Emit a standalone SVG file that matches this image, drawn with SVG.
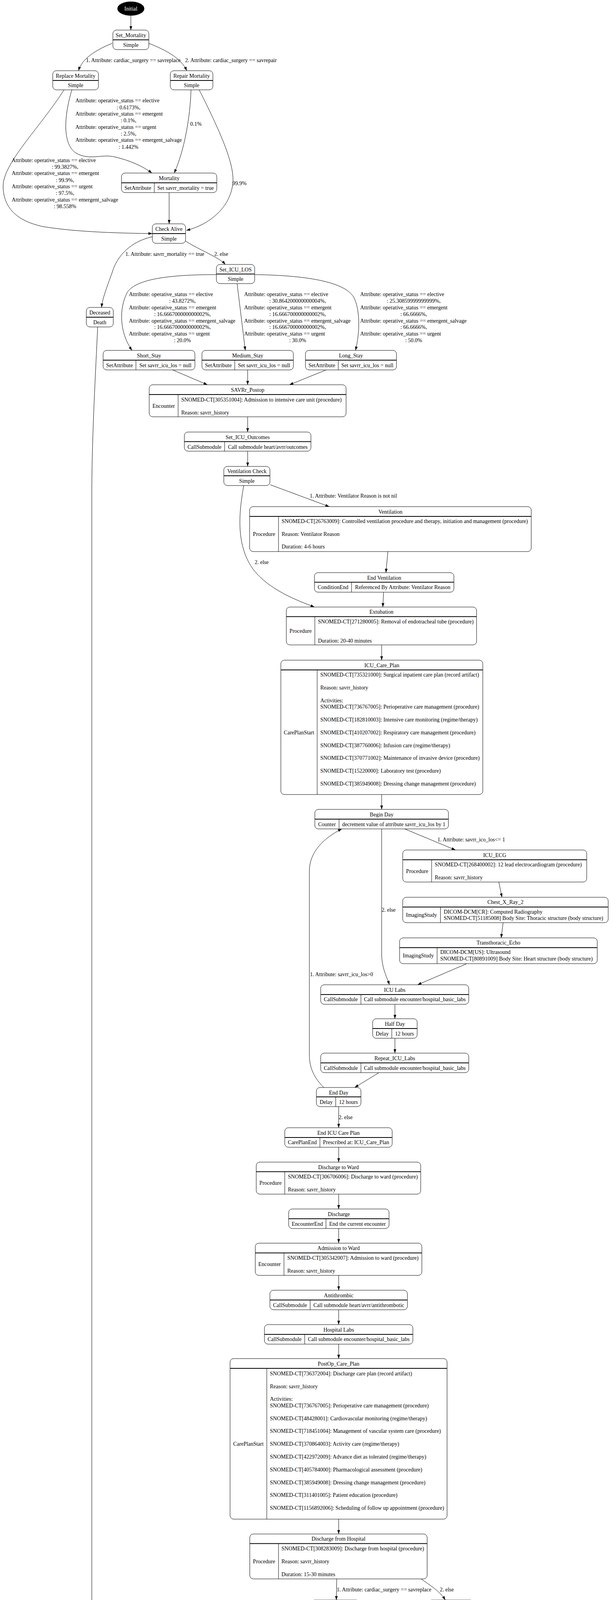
<svg xmlns="http://www.w3.org/2000/svg" width="1577" height="5031" viewBox="0 0 1577 5031">
<style>
text{font-family:"Liberation Serif","Times New Roman",serif;font-size:14px;fill:#000}
.c{text-anchor:middle}
.w{fill:#fff}
.nd rect{fill:#fff;stroke:#000;stroke-width:1}
.hd{stroke:#000;stroke-width:2}
.fd{stroke:#000;stroke-width:1}
.e path{fill:none;stroke:#000;stroke-width:1;marker-end:url(#ah)}
</style>
<defs>
<marker id="ah" viewBox="0 0 10 7" refX="10" refY="3.5" markerWidth="10" markerHeight="7" markerUnits="userSpaceOnUse" orient="auto"><path d="M0,0L10,3.5L0,7z" fill="#000"/></marker>
</defs>
<rect width="1577" height="5031" fill="#fff"/>

<g class="e" id="connectors">
<path d="M335,40L335,77"/>
<path d="M287,111C245,128 210,150 201,181"/>
<path d="M381,111C425,128 465,150 478,181"/>
<path d="M164,230C100,330 5,420 8,480C10,530 40,565 110,580C200,595 320,597 390,598"/>
<path d="M184,230C163,300 160,370 195,392C230,412 260,393 295,402C330,410 365,425 389,443"/>
<path d="M489,230C487,300 472,385 446,443"/>
<path d="M510,230C560,330 602,420 596,470C590,525 545,572 477,590"/>
<path d="M433,493L433,573"/>
<path d="M390,606C335,618 300,655 288,695C272,740 262,765 260,787"/>
<path d="M475,617C510,640 560,658 577,677"/>
<path d="M250,837C245,950 236,1100 235,1250L235,4870C235,4940 262,4975 294,4995"/>
<path d="M554,703C430,703 345,715 325,750C305,790 305,850 338,897"/>
<path d="M607,726L628,897"/>
<path d="M653,703C780,705 880,720 905,760C922,790 922,850 910,897"/>
<path d="M442,947L531,985"/>
<path d="M634,947L634,985"/>
<path d="M835,947L741,985"/>
<path d="M634,1067L634,1106"/>
<path d="M634,1155L634,1194"/>
<path d="M692,1241L843,1297"/>
<path d="M624,1243C610,1320 605,1400 650,1460C690,1510 760,1537 805,1554"/>
<path d="M993,1412L988,1466"/>
<path d="M982,1516L980,1554"/>
<path d="M977,1651L977,1690"/>
<path d="M977,2034L977,2072"/>
<path d="M1036,2122L1166,2176"/>
<path d="M977,2122L977,2440C977,2478 990,2500 997,2521"/>
<path d="M1277,2258L1285,2297"/>
<path d="M1288,2362L1283,2401"/>
<path d="M1195,2467L1069,2521"/>
<path d="M1011,2571L1011,2608"/>
<path d="M1011,2658L1011,2696"/>
<path d="M970,2746L908,2784"/>
<path d="M829,2784C805,2760 792,2735 792,2700L792,2230C792,2180 830,2145 875,2122"/>
<path d="M867,2833L867,2887"/>
<path d="M867,2937L867,2975"/>
<path d="M867,3057L867,3095"/>
<path d="M867,3145L867,3182"/>
<path d="M867,3265L867,3303"/>
<path d="M867,3353L867,3391"/>
<path d="M867,3441L867,3478"/>
<path d="M867,3889L867,3927"/>
<path d="M862,4042L861,4096"/>
<path d="M1078,4042C1100,4058 1125,4072 1140,4096"/>
<path d="M796,4124C690,4130 600,4140 572,4190C548,4235 545,4280 548,4317"/>
<path d="M855,4146C851,4200 846,4262 860,4290C868,4305 878,4312 887,4316"/>
<path d="M1154,4146C1150,4200 1145,4270 1133,4292C1120,4312 1000,4313 853,4316"/>
<path d="M1183,4146C1205,4200 1222,4250 1222,4317"/>
<path d="M564,4383L567,4421"/>
<path d="M1151,4383L1074,4421"/>
<path d="M569,4471L569.5,4509"/>
<path d="M910,4468L649,4519"/>
<path d="M605,4558L792,4696"/>
<path d="M557,4558C536,4650 511,4720 508,4800"/>
<path d="M781,4746C740,4780 640,4800 550,4815"/>
<path d="M469,4830C400,4845 335,4860 329,4880C327,4890 327,4897 327,4903"/>
<path d="M515,4850C520,4910 490,4960 370,4995"/>
<path d="M334,4953L334,4992"/>
</g>

<g id="edge-labels">
<text x="220" y="159">1. Attribute: cardiac_surgery == savreplace</text>
<text x="474" y="159">2. Attribute: cardiac_surgery == savrepair</text>
<text x="193" y="262">Attribute: operative_status == elective</text>
<text x="329" y="279.5" class="c">: 0.6173%,</text>
<text x="193" y="296">Attribute: operative_status == emergent</text>
<text x="329" y="313.3" class="c">: 0.1%,</text>
<text x="193" y="330">Attribute: operative_status == urgent</text>
<text x="329" y="346.7" class="c">: 2.5%,</text>
<text x="193" y="363.3">Attribute: operative_status == emergent_salvage</text>
<text x="329" y="380.7" class="c">: 1.442%</text>
<text x="487" y="322">0.1%</text>
<text x="30" y="415">Attribute: operative_status == elective</text>
<text x="166.5" y="431.7" class="c">: 99.3827%,</text>
<text x="30" y="448.3">Attribute: operative_status == emergent</text>
<text x="166.5" y="465.7" class="c">: 99.9%,</text>
<text x="30" y="482.3">Attribute: operative_status == urgent</text>
<text x="166.5" y="499.3" class="c">: 97.5%,</text>
<text x="30" y="516">Attribute: operative_status == emergent_salvage</text>
<text x="166.5" y="532.7" class="c">: 98.558%</text>
<text x="595" y="474">99.9%</text>
<text x="321" y="655">1. Attribute: savrr_mortality == true</text>
<text x="548.5" y="655">2. else</text>
<text x="330" y="758">Attribute: operative_status == elective</text>
<text x="467" y="775" class="c">: 43.8272%,</text>
<text x="330" y="792">Attribute: operative_status == emergent</text>
<text x="467" y="809" class="c">: 16.666700000000002%,</text>
<text x="330" y="826">Attribute: operative_status == emergent_salvage</text>
<text x="467" y="842" class="c">: 16.666700000000002%,</text>
<text x="330" y="859">Attribute: operative_status == urgent</text>
<text x="467" y="876" class="c">: 20.0%</text>
<text x="625" y="758">Attribute: operative_status == elective</text>
<text x="762" y="775" class="c">: 30.864200000000004%,</text>
<text x="625" y="792">Attribute: operative_status == emergent</text>
<text x="762" y="809" class="c">: 16.666700000000002%,</text>
<text x="625" y="826">Attribute: operative_status == emergent_salvage</text>
<text x="762" y="842" class="c">: 16.666700000000002%,</text>
<text x="625" y="859">Attribute: operative_status == urgent</text>
<text x="762" y="876" class="c">: 30.0%</text>
<text x="922" y="758">Attribute: operative_status == elective</text>
<text x="1059" y="775" class="c">: 25.30859999999999%,</text>
<text x="922" y="792">Attribute: operative_status == emergent</text>
<text x="1059" y="809" class="c">: 66.6666%,</text>
<text x="922" y="826">Attribute: operative_status == emergent_salvage</text>
<text x="1059" y="842" class="c">: 66.6666%,</text>
<text x="922" y="859">Attribute: operative_status == urgent</text>
<text x="1059" y="876" class="c">: 50.0%</text>
<text x="793" y="1274">1. Attribute: Ventilator Reason is not nil</text>
<text x="652" y="1444">2. else</text>
<text x="1120" y="2154">1. Attribute: savrr_ico_los&lt;= 1</text>
<text x="977" y="2334">2. else</text>
<text x="793.5" y="2499">1. Attribute: savrr_icu_los&gt;0</text>
<text x="867" y="2865">2. else</text>
<text x="862" y="4074">1. Attribute: cardiac_surgery == savreplace</text>
<text x="1126" y="4074">2. else</text>
<text x="564" y="4177.7">Attribute: operative_status == elective</text>
<text x="700" y="4195" class="c">: 94.39999999999999%,</text>
<text x="564" y="4211.7">Attribute: operative_status == emergent</text>
<text x="700" y="4229" class="c">: 83.3%,</text>
<text x="564" y="4245">Attribute: operative_status == emergent_salvage</text>
<text x="700" y="4262.3" class="c">: 83.3%,</text>
<text x="564" y="4279">Attribute: operative_status == urgent</text>
<text x="700" y="4295.7" class="c">: 80.0%</text>
<text x="860" y="4177.7">Attribute: operative_status == elective</text>
<text x="996" y="4195" class="c">: 5.600000000000016%,</text>
<text x="860" y="4211.7">Attribute: operative_status == emergent</text>
<text x="996" y="4229" class="c">: 16.700000000000003%,</text>
<text x="860" y="4245">Attribute: operative_status == emergent_salvage</text>
<text x="996" y="4262.3" class="c">: 16.700000000000003%,</text>
<text x="860" y="4279">Attribute: operative_status == urgent</text>
<text x="996" y="4295.7" class="c">: 20.0%</text>
<text x="1151" y="4236">93.0%</text>
<text x="1222" y="4236">7.000000000000001%</text>
<text x="743" y="4590.7">Attribute: cardiac_surgery == savreplace</text>
<text x="857.5" y="4607.7" class="c">: 1.442%,</text>
<text x="743" y="4624.3">Attribute: cardiac_surgery == savrepair</text>
<text x="857.5" y="4641.7" class="c">: 1.0%,</text>
<text x="857.5" y="4657.7" class="c">else: 1.0%</text>
<text x="516.5" y="4692.7">Attribute: cardiac_surgery == savreplace</text>
<text x="631" y="4710" class="c">: 98.558%,</text>
<text x="516.5" y="4726.7">Attribute: cardiac_surgery == savrepair</text>
<text x="631" y="4743.3" class="c">: 99.0%,</text>
<text x="631" y="4759.3" class="c">else: 99.0%</text>
<text x="335" y="4882">1. Attribute: postop_snf == true</text>
<text x="499" y="4934">2. else</text>
</g>

<g id="initial"><ellipse cx="335" cy="22" rx="34.5" ry="18" fill="#000"/><text x="335" y="27" class="c w">Initial</text></g>

<g id="set_mortality" class="nd"><rect x="289" y="77" width="92" height="50" rx="9"/><line class="hd" x1="289" y1="102" x2="381" y2="102"/><text x="335" y="95" class="c">Set_Mortality</text><text x="335" y="120" class="c">Simple</text></g>

<g id="replace_mortality" class="nd"><rect x="135" y="181" width="117" height="49" rx="9"/><line class="hd" x1="135" y1="206" x2="252" y2="206"/><text x="193.5" y="198.5" class="c">Replace Mortality</text><text x="193.5" y="223" class="c">Simple</text></g>

<g id="repair_mortality" class="nd"><rect x="436" y="181" width="109" height="49" rx="9"/><line class="hd" x1="436" y1="206" x2="545" y2="206"/><text x="490.5" y="198.5" class="c">Repair Mortality</text><text x="490.5" y="223" class="c">Simple</text></g>

<g id="mortality" class="nd"><rect x="311" y="443" width="244" height="50" rx="9"/><line class="hd" x1="311" y1="468" x2="555" y2="468"/><line class="fd" x1="395" y1="468" x2="395" y2="493"/><text x="433" y="461" class="c">Mortality</text><text x="353" y="486" class="c">SetAttribute</text><text x="475" y="486" class="c">Set savrr_mortality = true</text></g>

<g id="check_alive" class="nd"><rect x="390" y="573" width="85" height="50" rx="9"/><line class="hd" x1="390" y1="598" x2="475" y2="598"/><text x="432.5" y="591" class="c">Check Alive</text><text x="432.5" y="616" class="c">Simple</text></g>

<g id="deceased" class="nd"><rect x="221" y="787" width="69" height="50" rx="9"/><line class="hd" x1="221" y1="812" x2="290" y2="812"/><text x="255.5" y="805" class="c">Deceased</text><text x="255.5" y="830" class="c">Death</text></g>

<g id="set_icu_los" class="nd"><rect x="554" y="677" width="98" height="49" rx="9"/><line class="hd" x1="554" y1="701.5" x2="652" y2="701.5"/><text x="603" y="694.5" class="c">Set_ICU_LOS</text><text x="603" y="719" class="c">Simple</text></g>

<g id="short_stay" class="nd"><rect x="264" y="897" width="235" height="50" rx="9"/><line class="hd" x1="264" y1="922" x2="499" y2="922"/><line class="fd" x1="348" y1="922" x2="348" y2="947"/><text x="381.5" y="915" class="c">Short_Stay</text><text x="306" y="940" class="c">SetAttribute</text><text x="423.5" y="940" class="c">Set savrr_icu_los = null</text></g>

<g id="medium_stay" class="nd"><rect x="517" y="897" width="234" height="50" rx="9"/><line class="hd" x1="517" y1="922" x2="751" y2="922"/><line class="fd" x1="601" y1="922" x2="601" y2="947"/><text x="634" y="915" class="c">Medium_Stay</text><text x="559" y="940" class="c">SetAttribute</text><text x="676" y="940" class="c">Set savrr_icu_los = null</text></g>

<g id="long_stay" class="nd"><rect x="782" y="897" width="233" height="50" rx="9"/><line class="hd" x1="782" y1="922" x2="1015" y2="922"/><line class="fd" x1="866" y1="922" x2="866" y2="947"/><text x="898.5" y="915" class="c">Long_Stay</text><text x="824" y="940" class="c">SetAttribute</text><text x="940.5" y="940" class="c">Set savrr_icu_los = null</text></g>

<g id="savrr_postop" class="nd"><rect x="382" y="985" width="504" height="82" rx="9"/><line class="hd" x1="382" y1="1010" x2="886" y2="1010"/><line class="fd" x1="456" y1="1010" x2="456" y2="1067"/><text x="634" y="1003" class="c">SAVRr_Postop</text><text x="419" y="1044" class="c">Encounter</text><text x="464" y="1028">SNOMED-CT[305351004]: Admission to intensive care unit (procedure)</text><text x="464" y="1061">Reason: savrr_history</text></g>

<g id="set_icu_outcomes" class="nd"><rect x="472" y="1106" width="324" height="49" rx="9"/><line class="hd" x1="472" y1="1130.5" x2="796" y2="1130.5"/><line class="fd" x1="575" y1="1130.5" x2="575" y2="1155"/><text x="634" y="1123.5" class="c">Set_ICU_Outcomes</text><text x="523.5" y="1148.5" class="c">CallSubmodule</text><text x="685.5" y="1148.5" class="c">Call submodule heart/avrr/outcomes</text></g>

<g id="ventilation_check" class="nd"><rect x="573" y="1194" width="118" height="49" rx="9"/><line class="hd" x1="573" y1="1218" x2="691" y2="1218"/><text x="632" y="1211" class="c">Ventilation Check</text><text x="632" y="1235.5" class="c">Simple</text></g>

<g id="ventilation" class="nd"><rect x="639" y="1297" width="721" height="115" rx="9"/><line class="hd" x1="639" y1="1322" x2="1360" y2="1322"/><line class="fd" x1="713" y1="1322" x2="713" y2="1412"/><text x="999.5" y="1314.5" class="c">Ventilation</text><text x="676" y="1372" class="c">Procedure</text><text x="721" y="1339.3">SNOMED-CT[26763009]: Controlled ventilation procedure and therapy, initiation and management (procedure)</text><text x="721" y="1372">Reason: Ventilator Reason</text><text x="721" y="1404.3">Duration: 4-6 hours</text></g>

<g id="end_ventilation" class="nd"><rect x="805" y="1466" width="357" height="50" rx="9"/><line class="hd" x1="805" y1="1490.5" x2="1162" y2="1490.5"/><line class="fd" x1="900" y1="1490.5" x2="900" y2="1516"/><text x="983.5" y="1483.5" class="c">End Ventilation</text><text x="852.5" y="1508" class="c">ConditionEnd</text><text x="1031" y="1508" class="c">Referenced By Attribute: Ventilator Reason</text></g>

<g id="extubation" class="nd"><rect x="733" y="1554" width="487" height="97" rx="9"/><line class="hd" x1="733" y1="1578.5" x2="1220" y2="1578.5"/><line class="fd" x1="806" y1="1578.5" x2="806" y2="1651"/><text x="976.5" y="1571" class="c">Extubation</text><text x="769.5" y="1620" class="c">Procedure</text><text x="814" y="1596">SNOMED-CT[271280005]: Removal of endotracheal tube (procedure)</text><text x="814" y="1644.5">Duration: 20-40 minutes</text></g>

<g id="icu_care_plan" class="nd"><rect x="719" y="1690" width="517" height="344" rx="9"/><line class="hd" x1="719" y1="1715" x2="1236" y2="1715"/><line class="fd" x1="812" y1="1715" x2="812" y2="2034"/><text x="977.5" y="1708" class="c">ICU_Care_Plan</text><text x="765.5" y="1880" class="c">CarePlanStart</text>
<text x="820" y="1732">SNOMED-CT[735321000]: Surgical inpatient care plan (record artifact)</text>
<text x="820" y="1764.5">Reason: savrr_history</text>
<text x="820" y="1797.5">Activities:</text>
<text x="820" y="1814.3">SNOMED-CT[736767005]: Perioperative care management (procedure)</text>
<text x="820" y="1847">SNOMED-CT[182810003]: Intensive care monitoring (regime/therapy)</text>
<text x="820" y="1879.6">SNOMED-CT[410207002]: Respiratory care management (procedure)</text>
<text x="820" y="1912.5">SNOMED-CT[387760006]: Infusion care (regime/therapy)</text>
<text x="820" y="1945.4">SNOMED-CT[370771002]: Maintenance of invasive device (procedure)</text>
<text x="820" y="1978.2">SNOMED-CT[15220000]: Laboratory test (procedure)</text>
<text x="820" y="2011">SNOMED-CT[385949008]: Dressing change management (procedure)</text></g>

<g id="begin_day" class="nd"><rect x="806" y="2072" width="342" height="50" rx="9"/><line class="hd" x1="806" y1="2097" x2="1148" y2="2097"/><line class="fd" x1="868" y1="2097" x2="868" y2="2122"/><text x="977" y="2090" class="c">Begin Day</text><text x="837" y="2114.5" class="c">Counter</text><text x="1008" y="2114.5" class="c">decrement value of attribute savrr_icu_los by 1</text></g>

<g id="icu_ecg" class="nd"><rect x="1031" y="2176" width="471" height="82" rx="9"/><line class="hd" x1="1031" y1="2201" x2="1502" y2="2201"/><line class="fd" x1="1105" y1="2201" x2="1105" y2="2258"/><text x="1266.5" y="2193.5" class="c">ICU_ECG</text><text x="1068" y="2234.5" class="c">Procedure</text><text x="1113" y="2218">SNOMED-CT[268400002]: 12 lead electrocardiogram (procedure)</text><text x="1113" y="2251">Reason: savrr_history</text></g>

<g id="chest_x_ray_2" class="nd"><rect x="1031" y="2297" width="526" height="65" rx="9"/><line class="hd" x1="1031" y1="2322" x2="1557" y2="2322"/><line class="fd" x1="1127.5" y1="2322" x2="1127.5" y2="2362"/><text x="1294" y="2313.5" class="c">Chest_X_Ray_2</text><text x="1079" y="2346.7" class="c">ImagingStudy</text><text x="1136" y="2338.5">DICOM-DCM[CR]: Computed Radiography</text><text x="1136" y="2355">SNOMED-CT[51185008] Body Site: Thoracic structure (body structure)</text></g>

<g id="transthoracic_echo" class="nd"><rect x="1023" y="2401" width="506" height="66" rx="9"/><line class="hd" x1="1023" y1="2426" x2="1529" y2="2426"/><line class="fd" x1="1119" y1="2426" x2="1119" y2="2467"/><text x="1276" y="2418.3" class="c">Transthoracic_Echo</text><text x="1071" y="2451" class="c">ImagingStudy</text><text x="1127" y="2442">DICOM-DCM[US]: Ultrasound</text><text x="1127" y="2459">SNOMED-CT[80891009] Body Site: Heart structure (body structure)</text></g>

<g id="icu_labs" class="nd"><rect x="821" y="2521" width="379" height="50" rx="9"/><line class="hd" x1="821" y1="2546" x2="1200" y2="2546"/><line class="fd" x1="924" y1="2546" x2="924" y2="2571"/><text x="1010.5" y="2538.5" class="c">ICU Labs</text><text x="872.5" y="2563" class="c">CallSubmodule</text><text x="1062" y="2563" class="c">Call submodule encounter/hospital_basic_labs</text></g>

<g id="half_day" class="nd"><rect x="954" y="2608" width="114" height="50" rx="9"/><line class="hd" x1="954" y1="2633" x2="1068" y2="2633"/><line class="fd" x1="1003" y1="2633" x2="1003" y2="2658"/><text x="1011" y="2626" class="c">Half Day</text><text x="978.5" y="2651" class="c">Delay</text><text x="1035.5" y="2651" class="c">12 hours</text></g>

<g id="repeat_icu_labs" class="nd"><rect x="821" y="2696" width="379" height="50" rx="9"/><line class="hd" x1="821" y1="2721" x2="1200" y2="2721"/><line class="fd" x1="924" y1="2721" x2="924" y2="2746"/><text x="1010.5" y="2713.5" class="c">Repeat_ICU_Labs</text><text x="872.5" y="2738.5" class="c">CallSubmodule</text><text x="1062" y="2738.5" class="c">Call submodule encounter/hospital_basic_labs</text></g>

<g id="end_day" class="nd"><rect x="810" y="2784" width="114" height="49" rx="9"/><line class="hd" x1="810" y1="2808" x2="924" y2="2808"/><line class="fd" x1="859.5" y1="2808" x2="859.5" y2="2833"/><text x="867" y="2801.5" class="c">End Day</text><text x="835" y="2826" class="c">Delay</text><text x="892" y="2826" class="c">12 hours</text></g>

<g id="end_icu_care_plan" class="nd"><rect x="729" y="2887" width="275" height="50" rx="9"/><line class="hd" x1="729" y1="2912" x2="1004" y2="2912"/><line class="fd" x1="819" y1="2912" x2="819" y2="2937"/><text x="866.5" y="2904.5" class="c">End ICU Care Plan</text><text x="774" y="2929.3" class="c">CarePlanEnd</text><text x="911.5" y="2929.3" class="c">Prescribed at: ICU_Care_Plan</text></g>

<g id="discharge_to_ward" class="nd"><rect x="656" y="2975" width="421" height="82" rx="9"/><line class="hd" x1="656" y1="2999.5" x2="1077" y2="2999.5"/><line class="fd" x1="729" y1="2999.5" x2="729" y2="3057"/><text x="866.5" y="2992.5" class="c">Discharge to Ward</text><text x="692.5" y="3033" class="c">Procedure</text><text x="737" y="3017">SNOMED-CT[306706006]: Discharge to ward (procedure)</text><text x="737" y="3049.6">Reason: savrr_history</text></g>

<g id="discharge" class="nd"><rect x="739" y="3095" width="257" height="50" rx="9"/><line class="hd" x1="739" y1="3120" x2="996" y2="3120"/><line class="fd" x1="834.5" y1="3120" x2="834.5" y2="3145"/><text x="867.5" y="3112.6" class="c">Discharge</text><text x="786.75" y="3137.7" class="c">EncounterEnd</text><text x="915.25" y="3137.7" class="c">End the current encounter</text></g>

<g id="admission_to_ward" class="nd"><rect x="653.5" y="3182.5" width="426.5" height="82.5" rx="9"/><line class="hd" x1="653.5" y1="3207.5" x2="1080" y2="3207.5"/><line class="fd" x1="727" y1="3207.5" x2="727" y2="3265"/><text x="866.75" y="3200" class="c">Admission to Ward</text><text x="690" y="3241" class="c">Encounter</text><text x="735.5" y="3225">SNOMED-CT[305342007]: Admission to ward (procedure)</text><text x="735.5" y="3258">Reason: savrr_history</text></g>

<g id="antithrombic" class="nd"><rect x="691" y="3303" width="352" height="50" rx="9"/><line class="hd" x1="691" y1="3328" x2="1043" y2="3328"/><line class="fd" x1="794" y1="3328" x2="794" y2="3353"/><text x="867" y="3320.5" class="c">Antithrombic</text><text x="742.5" y="3345.5" class="c">CallSubmodule</text><text x="918.5" y="3345.5" class="c">Call submodule heart/avrr/antithrombotic</text></g>

<g id="hospital_labs" class="nd"><rect x="677" y="3391" width="380" height="50" rx="9"/><line class="hd" x1="677" y1="3416" x2="1057" y2="3416"/><line class="fd" x1="780" y1="3416" x2="780" y2="3441"/><text x="867" y="3408.5" class="c">Hospital Labs</text><text x="728.5" y="3433" class="c">CallSubmodule</text><text x="918.5" y="3433" class="c">Call submodule encounter/hospital_basic_labs</text></g>

<g id="postop_care_plan" class="nd"><rect x="589" y="3478" width="555.5" height="411" rx="9"/><line class="hd" x1="589" y1="3503" x2="1144.5" y2="3503"/><line class="fd" x1="683" y1="3503" x2="683" y2="3889"/><text x="866.75" y="3495.7" class="c">PostOp_Care_Plan</text><text x="636" y="3701" class="c">CarePlanStart</text>
<text x="691" y="3520.7">SNOMED-CT[736372004]: Discharge care plan (record artifact)</text>
<text x="691" y="3553.6">Reason: savrr_history</text>
<text x="691" y="3586">Activities:</text>
<text x="691" y="3603">SNOMED-CT[736767005]: Perioperative care management (procedure)</text>
<text x="691" y="3635.7">SNOMED-CT[48428001]: Cardiovascular monitoring (regime/therapy)</text>
<text x="691" y="3668.2">SNOMED-CT[718451004]: Management of vascular system care (procedure)</text>
<text x="691" y="3701">SNOMED-CT[370864003]: Activity care (regime/therapy)</text>
<text x="691" y="3734">SNOMED-CT[422972009]: Advance diet as tolerated (regime/therapy)</text>
<text x="691" y="3766.8">SNOMED-CT[405784000]: Pharmacological assessment (procedure)</text>
<text x="691" y="3799.6">SNOMED-CT[385949008]: Dressing change management (procedure)</text>
<text x="691" y="3832">SNOMED-CT[311401005]: Patient education (procedure)</text>
<text x="691" y="3865">SNOMED-CT[1156892006]: Scheduling of follow up appointment (procedure)</text></g>

<g id="discharge_from_hospital" class="nd"><rect x="639.5" y="3927" width="454" height="115" rx="9"/><line class="hd" x1="639.5" y1="3951.5" x2="1093.5" y2="3951.5"/><line class="fd" x1="713" y1="3951.5" x2="713" y2="4042"/><text x="866.5" y="3944.3" class="c">Discharge from Hospital</text><text x="676" y="4001.7" class="c">Procedure</text><text x="720.5" y="3969.3">SNOMED-CT[308283009]: Discharge from hospital (procedure)</text><text x="720.5" y="4001.7">Reason: savrr_history</text><text x="720.5" y="4035">Duration: 15-30 minutes</text></g>

<g id="savreplace_dispo" class="nd"><rect x="796" y="4096" width="125.5" height="50" rx="9"/><line class="hd" x1="796" y1="4121" x2="921.5" y2="4121"/><text x="858.75" y="4113.5" class="c">SAVReplace Dispo</text><text x="858.75" y="4138.3" class="c">Simple</text></g>

<g id="savrepair_dispo" class="nd"><rect x="1096" y="4096" width="117" height="50" rx="9"/><line class="hd" x1="1096" y1="4121" x2="1213" y2="4121"/><text x="1154.5" y="4113.5" class="c">SAVRepair Dispo</text><text x="1154.5" y="4138.3" class="c">Simple</text></g>

<g id="discharge_to_home" class="nd"><rect x="266.5" y="4317" width="586" height="66" rx="9"/><line class="hd" x1="266.5" y1="4342" x2="852.5" y2="4342"/><line class="fd" x1="363" y1="4342" x2="363" y2="4383"/><text x="559.5" y="4334.5" class="c">Discharge to Home</text><text x="314.75" y="4367.7" class="c">EncounterEnd</text><text x="371" y="4359.3">End the current encounter</text><text x="371" y="4376">Discharge Disposition: [01] Discharged to home care or self care (routine discharge)</text></g>

<g id="discharge_to_facility" class="nd"><rect x="870.5" y="4317" width="701.5" height="66" rx="9"/><line class="hd" x1="870.5" y1="4342" x2="1572" y2="4342"/><line class="fd" x1="967" y1="4342" x2="967" y2="4383"/><text x="1221.25" y="4334.5" class="c">Discharge to Facility</text><text x="918.75" y="4367.7" class="c">EncounterEnd</text><text x="975.5" y="4359.3">End the current encounter</text><text x="975.5" y="4376">Discharge Disposition: [04] Discharged/transferred to a facility that provides custodial or supportive care</text></g>

<g id="no_snf" class="nd"><rect x="457.5" y="4421" width="223" height="50" rx="9"/><line class="hd" x1="457.5" y1="4446" x2="680.5" y2="4446"/><line class="fd" x1="542" y1="4446" x2="542" y2="4471"/><text x="569" y="4439" class="c">No SNF</text><text x="499.75" y="4464" class="c">SetAttribute</text><text x="611.25" y="4464" class="c">Set postop_snf = false</text></g>

<g id="snf" class="nd"><rect x="910" y="4421" width="220" height="50" rx="9"/><line class="hd" x1="910" y1="4446" x2="1130" y2="4446"/><line class="fd" x1="994" y1="4446" x2="994" y2="4471"/><text x="1020" y="4439" class="c">SNF</text><text x="952" y="4464" class="c">SetAttribute</text><text x="1062" y="4464" class="c">Set postop_snf = true</text></g>

<g id="post_discharge_outcomes" class="nd"><rect x="489" y="4509" width="161.5" height="49" rx="9"/><line class="hd" x1="489" y1="4533.5" x2="650.5" y2="4533.5"/><text x="569.75" y="4526.5" class="c">Post Discharge Outcomes</text><text x="569.75" y="4551" class="c">Simple</text></g>

<g id="dying_after_discharge" class="nd"><rect x="754.5" y="4696" width="143.5" height="50" rx="9"/><line class="hd" x1="754.5" y1="4721" x2="898" y2="4721"/><line class="fd" x1="813" y1="4721" x2="813" y2="4746"/><text x="826.25" y="4713.5" class="c">Dying After Discharge</text><text x="783.75" y="4738.3" class="c">Death</text><text x="855.5" y="4738.3" class="c">1-30 days</text></g>

<g id="snf_check" class="nd"><rect x="469" y="4800" width="80" height="50" rx="9"/><line class="hd" x1="469" y1="4825" x2="549" y2="4825"/><text x="509" y="4817.7" class="c">SNF Check</text><text x="509" y="4842.3" class="c">Simple</text></g>

<g id="call_snf_submodule" class="nd"><rect x="263" y="4903" width="142" height="50" rx="9"/><line class="hd" x1="263" y1="4928" x2="405" y2="4928"/><text x="334" y="4921" class="c">Call_SNF_Submodule</text><text x="334" y="4945.7" class="c">Simple</text></g>

<g id="terminal"><ellipse cx="334" cy="5009.5" rx="46" ry="17.5" fill="#000"/><text x="334" y="5014.5" class="c w">Terminal</text></g>
</svg>
